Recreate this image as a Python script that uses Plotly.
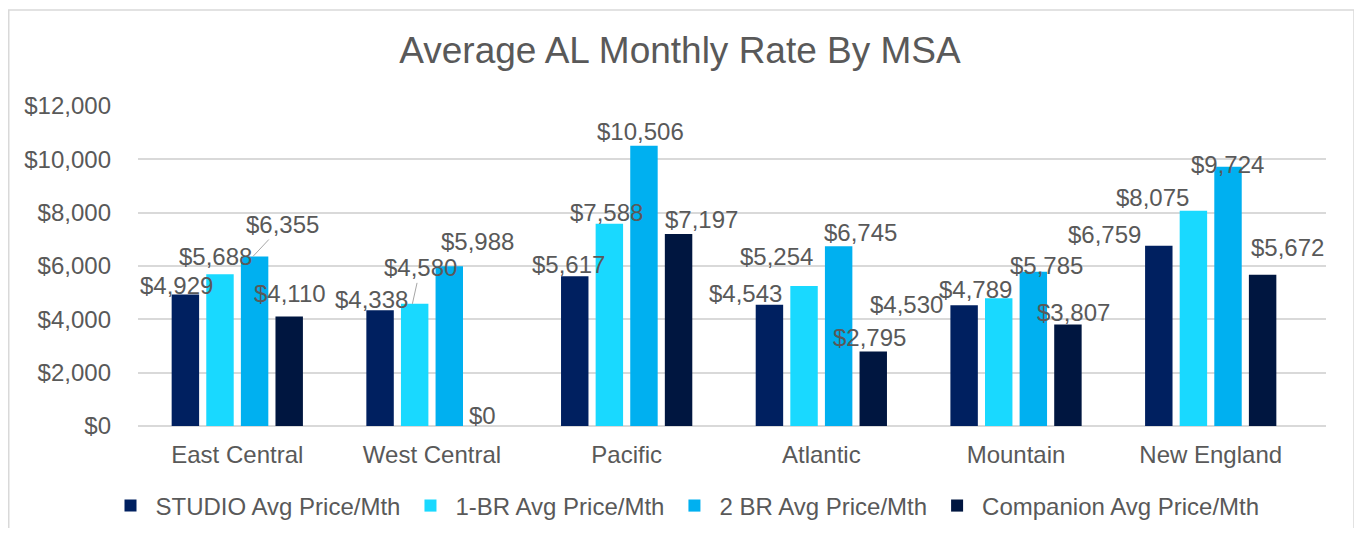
import plotly.graph_objects as go

# values
categories = ["East Central", "West Central", "Pacific", "Atlantic", "Mountain", "New England"]
studio = [4929, 4338, 5617, 4543, 4530, 6759]
one_br = [5688, 4580, 7588, 5254, 4789, 8075]
two_br = [6355, 5988, 10506, 6745, 5785, 9724]
companion = [4110, 0, 7197, 2795, 3807, 5672]

series_names = ["STUDIO Avg Price/Mth", "1-BR Avg Price/Mth", "2 BR Avg Price/Mth", "Companion Avg Price/Mth"]
series_values = [studio, one_br, two_br, companion]
colors = ["#002060", "#19D9FF", "#00B0F0", "#001640"]

FONT = "Liberation Sans, Arial, sans-serif"
TEXT = "#595959"
GRID = "#D9D9D9"

# figure is drawn 8px in from the page corner (body margin)
W, H = 1354, 520
L, R, T, B = 130, 36, 98, 102
PW, PH = W - L - R, H - T - B

# data label nudges (px) to mimic Excel's label placement: (dx, dy above bar top)
label_nudge = [
    [(-8, 9), (-8, 11), (-5, 12), (-23, 11), (-57, 1), (-53, 11)],
    [(-4, 18), (6, 36), (-3, 11), (-27, 29), (-23, 9), (-41, 13)],
    [(28, 32), (28, 25), (-4, 14), (22, 14), (13, 6), (-1, 2)],
    [(0, 23), (-2, 11), (22, 15), (-5, 14), (5, 12), (24, 27)],
]
# labels that Excel connected to their bar with a leader line
leaders = {(2, 0), (1, 1)}

slot = PW / 6 * 0.711 / 4  # pixel width of one bar slot inside a group

fig = go.Figure()
for name, vals, col in zip(series_names, series_values, colors):
    fig.add_trace(go.Bar(x=categories, y=vals, name=name, marker_color=col,
                         marker_line_width=0))

annotations = []
for i, vals in enumerate(series_values):
    base = (i - 1.5) * slot
    for j, v in enumerate(vals):
        dx, dy = label_nudge[i][j]
        txt = f"${v:,.0f}"
        if (i, j) in leaders:
            annotations.append(dict(
                x=categories[j], y=v, text=txt, showarrow=True, arrowhead=0,
                arrowwidth=1, arrowcolor="#A6A6A6", xshift=base - 2,
                ax=dx + 2, ay=-dy, xanchor="center", yanchor="middle",
                font=dict(size=24, color=TEXT, family=FONT)))
        else:
            annotations.append(dict(
                x=categories[j], y=v, text=txt, showarrow=False,
                xshift=base + dx, yshift=dy, xanchor="center", yanchor="middle",
                font=dict(size=24, color=TEXT, family=FONT)))

fig.update_layout(
    width=W, height=H,
    margin=dict(l=L, r=R, t=T, b=B),
    paper_bgcolor="white", plot_bgcolor="white",
    font=dict(family=FONT, color=TEXT, size=24),
    title=dict(text="Average AL Monthly Rate By MSA", x=672 / W, xref="container",
               xanchor="center", y=1 - 42 / H, yanchor="middle",
               font=dict(size=37, color=TEXT)),
    barmode="group", bargap=0.289, bargroupgap=0.207,
    showlegend=True,
    legend=dict(orientation="h", xref="container", x=0.5, xanchor="center",
                yref="container", y=1 - 498 / H, yanchor="middle",
                font=dict(size=24, color=TEXT), itemwidth=40),
    annotations=annotations,
    shapes=[dict(type="rect", xref="paper", yref="paper",
                 x0=(0.75 - L) / PW, x1=(W - 8 - L) / PW,
                 y0=-(H + 20 - T - PH) / PH, y1=(T + PH - 2) / PH,
                 line=dict(color=GRID, width=1.5), fillcolor="rgba(0,0,0,0)", layer="below")],
)

fig.update_yaxes(range=[0, 12000], dtick=2000, tickprefix="$", tickformat=",.0f",
                 showgrid=True, gridcolor=GRID, gridwidth=1.5, zeroline=True,
                 zerolinecolor=GRID, zerolinewidth=1.5, showline=False,
                 ticklabelstandoff=26, tickfont=dict(size=24, color=TEXT))
fig.update_xaxes(showline=False, showgrid=False, ticks="", ticklabelstandoff=12,
                 tickfont=dict(size=24, color=TEXT))

fig.write_html("out.html")
